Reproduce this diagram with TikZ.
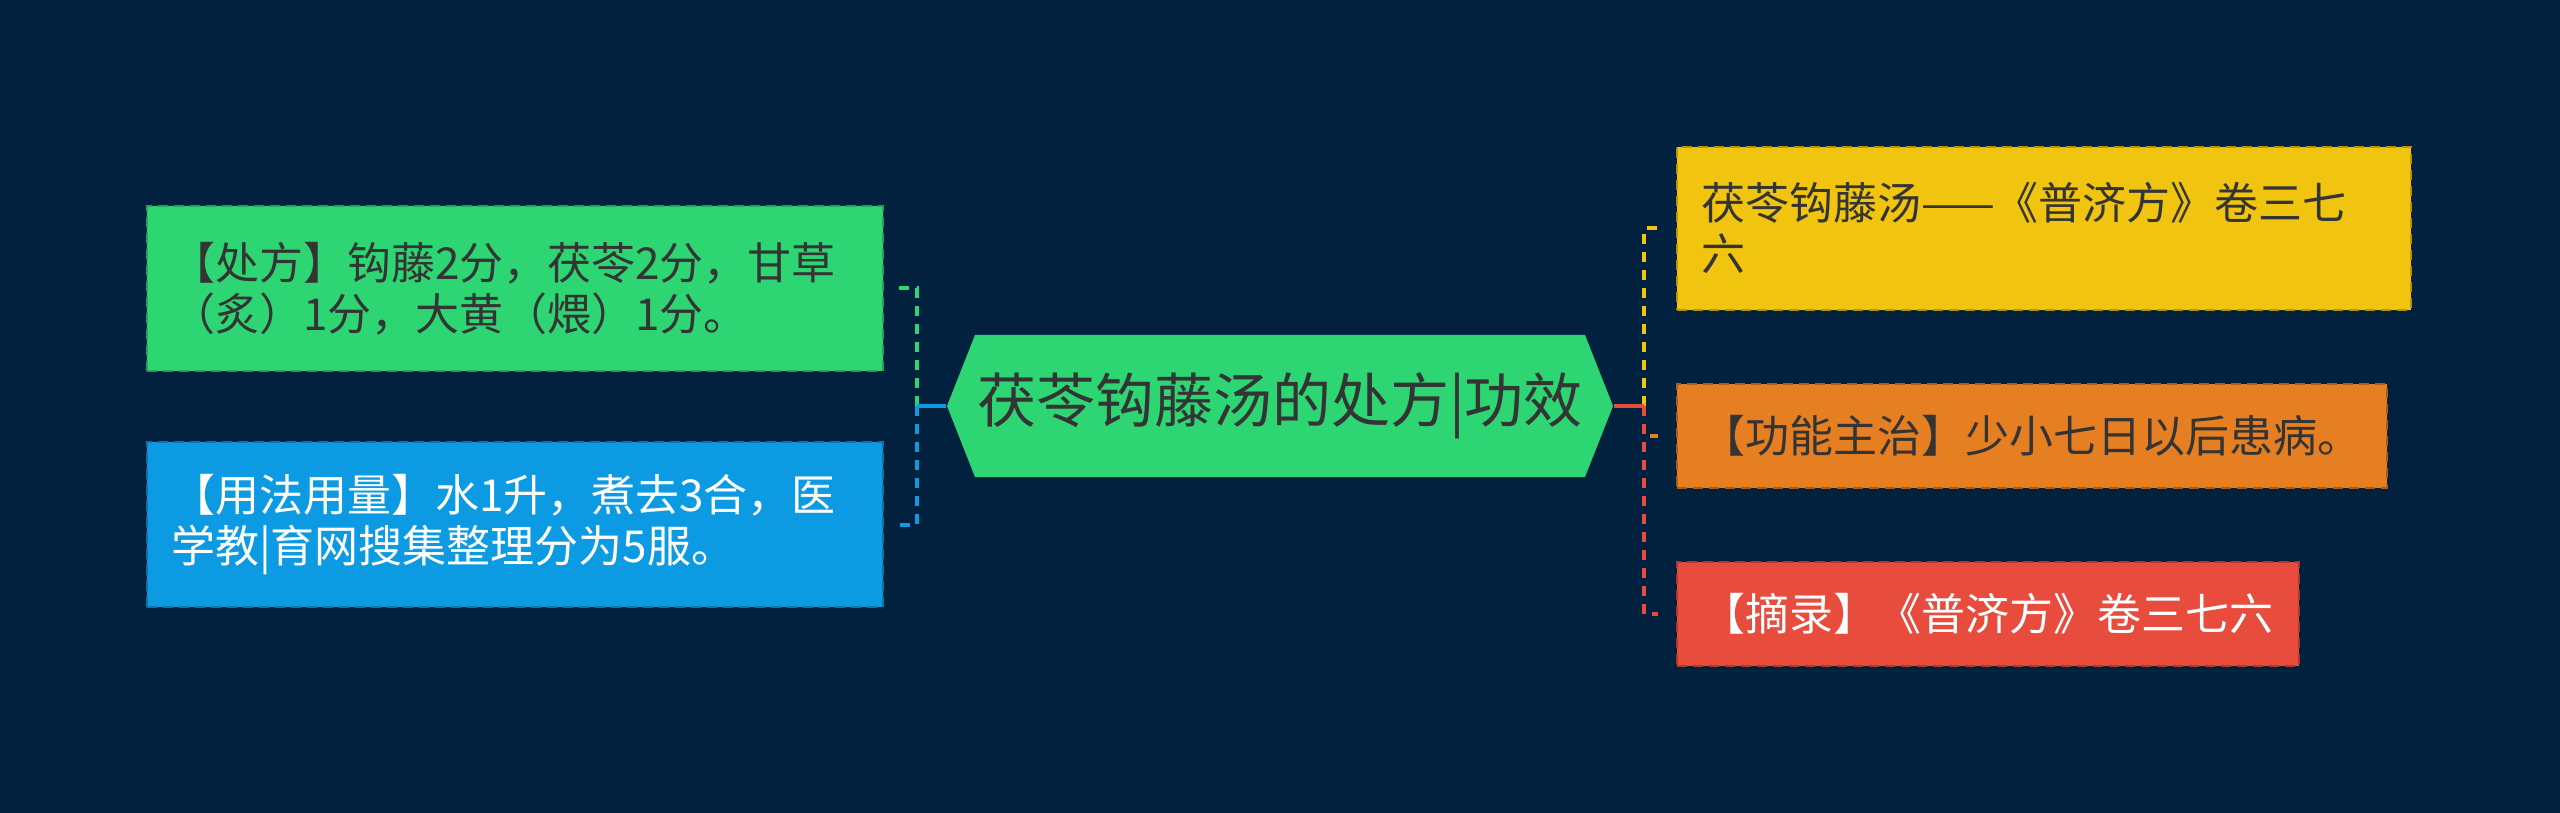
\documentclass[tikz,border=0pt]{standalone}
\usepackage{fontspec}
\setmainfont{Noto Sans CJK SC}
\usetikzlibrary{calc}

\definecolor{bgnavy}{HTML}{01213F}
\definecolor{mmgreen}{HTML}{2ED573}
\definecolor{mmblue}{HTML}{0C9BE2}
\definecolor{mmyellow}{HTML}{F1C40F}
\definecolor{mmorange}{HTML}{E67E22}
\definecolor{mmred}{HTML}{E74C3C}
\definecolor{mmdark}{HTML}{343434}

\tikzset{
  leaf/.style={rectangle, fill=#1, draw=#1!75!black, line width=0.5pt,
    dash pattern=on 2.5pt off 1.5pt, align=left, inner xsep=6pt, inner ysep=0pt,
    font=\fontsize{11}{12.75}\selectfont},
  branch/.style={draw=#1, line width=1pt, dash pattern=on 2.5pt off 2pt},
}

\begin{document}
\begin{tikzpicture}[x=0.25pt,y=0.25pt,yscale=-1,xscale=1]
% background, sets the page size
\fill[bgnavy] (0,0) rectangle (2560,813);
\useasboundingbox (0,0) rectangle (2560,813);

% Root Node
\node (root) [minimum width=166.5pt, minimum height=35.5pt, inner sep=0pt,
  text=mmdark, font=\fontsize{14.75}{16}\selectfont,
  path picture={\fill[mmgreen] (path picture bounding box.west)
    -- ([xshift=7pt]path picture bounding box.north west)
    -- ([xshift=-7pt]path picture bounding box.north east)
    -- (path picture bounding box.east)
    -- ([xshift=-7pt]path picture bounding box.south east)
    -- ([xshift=7pt]path picture bounding box.south west) -- cycle;}]
  at (1280,406) {茯苓钩藤汤的处方|功效};

% Left Nodes
\node (recipe) [leaf=mmgreen, text=mmdark, text width=172pt, minimum height=41.25pt]
  at (515,288.5) {【处方】钩藤2分，茯苓2分，甘草\\（炙）1分，大黄（煨）1分。};
\node (usage) [leaf=mmblue, text=white, text width=172pt, minimum height=41.25pt]
  at (515,524.5) {【用法用量】水1升，煮去3合，医\\学教|育网搜集整理分为5服。};

% Right Nodes
\node (title) [leaf=mmyellow, text=mmdark, text width=171.5pt, minimum height=40.75pt]
  at (2044,228.5) {茯苓钩藤汤——《普济方》卷三七\\六};
\node (effect) [leaf=mmorange, text=mmdark, text width=165.5pt, minimum height=26pt]
  at (2032,436) {【功能主治】少小七日以后患病。};
\node (source) [leaf=mmred, text=white, text width=143.5pt, minimum height=26pt]
  at (1988,614) {【摘录】《普济方》卷三七六};

% Connectors
\coordinate (lj) at (917,406);
\coordinate (rj) at (1644,406);

\draw[branch=mmgreen] (lj) |- ($(recipe.east)+(15,0)$);
\draw[branch=mmblue] (lj) |- ($(usage.east)+(15,0)$);
\draw[mmblue, line width=1pt] (root.west) -- (lj);

\draw[branch=mmyellow] (rj) |- ($(title.west)+(-18,0)$);
\draw[branch=mmorange] (rj) |- ($(effect.west)+(-18,0)$);
\draw[branch=mmred] (rj) |- ($(source.west)+(-18,0)$);
\draw[mmred, line width=1pt] (root.east) -- (rj);

\end{tikzpicture}
\end{document}
